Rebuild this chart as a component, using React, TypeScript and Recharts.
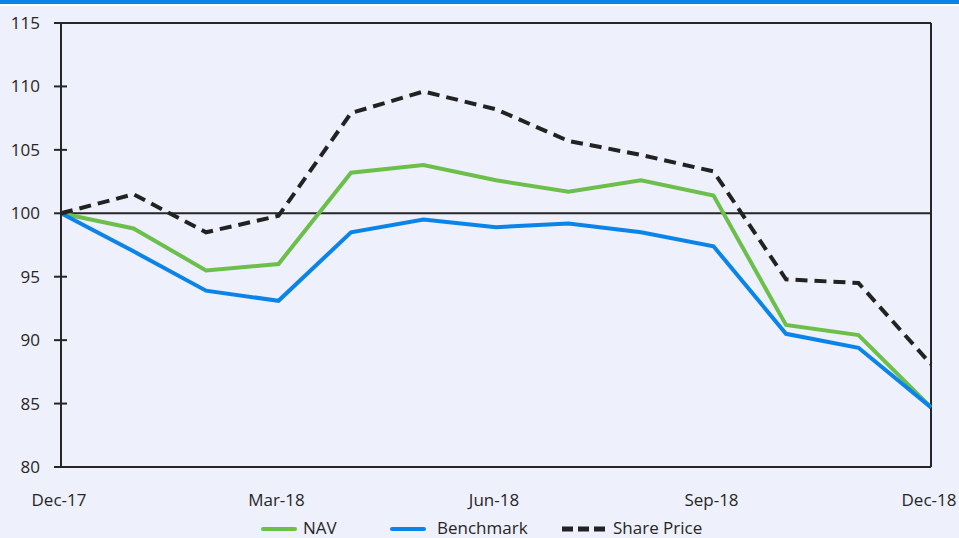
import { LineChart, Line, XAxis, YAxis, ReferenceLine } from "recharts";

const months = ["Dec-17", "Jan-18", "Feb-18", "Mar-18", "Apr-18", "May-18", "Jun-18", "Jul-18", "Aug-18", "Sep-18", "Oct-18", "Nov-18", "Dec-18"];
const nav = [100, 98.8, 95.5, 96.0, 103.2, 103.8, 102.6, 101.7, 102.6, 101.4, 91.2, 90.4, 84.7];
const benchmark = [100, 97.0, 93.9, 93.1, 98.5, 99.5, 98.9, 99.2, 98.5, 97.4, 90.5, 89.4, 84.7];
const sharePrice = [100, 101.5, 98.5, 99.8, 107.9, 109.6, 108.2, 105.7, 104.6, 103.3, 94.8, 94.5, 88.1];
const yTicks = [80, 85, 90, 95, 100, 105, 110, 115];

const FONT = "'Open Sans', sans-serif";
const INK = "#262626";

const YTick = ({ y, payload }: any) => (
  <g>
    <line x1={54} x2={67} y1={y} y2={y} stroke={INK} strokeWidth={2} />
    <text x={40} y={y + 6} textAnchor="end" fontSize={17} fontFamily={FONT} fill={INK}>
      {payload.value}
    </text>
  </g>
);

const XTick = ({ x, payload }: any) => (
  <text x={x - 2} y={506} textAnchor="middle" fontSize={17} fontFamily={FONT} fill={INK}>
    {payload.value}
  </text>
);

export default function App() {
  const data = months.map((m, i) => ({
    month: m,
    nav: nav[i],
    benchmark: benchmark[i],
    share: sharePrice[i],
  }));

  const legendText = { position: "absolute" as const, top: 0, display: "inline-block", height: 17, lineHeight: "17px" };

  return (
    <div style={{ position: "absolute", left: 0, top: 0, width: 959, height: 538, background: "#EEF0FC", overflow: "hidden" }}>
      <div style={{ position: "absolute", left: 0, top: 0, width: 959, height: 4, background: "#0A84E8" }} />
      <div style={{ position: "absolute", left: 0, top: 4, width: 959, height: 2, background: "#ffffff" }} />
      <LineChart width={959} height={538} data={data} margin={{ top: 23, right: 28, left: 0, bottom: 0 }}>
        <XAxis
          dataKey="month"
          height={71}
          interval={2}
          tickLine={false}
          axisLine={{ stroke: INK, strokeWidth: 2 }}
          tick={(p: any) => <XTick {...p} />}
        />
        <YAxis
          width={61}
          domain={[80, 115]}
          ticks={yTicks}
          tickLine={false}
          axisLine={{ stroke: INK, strokeWidth: 2 }}
          tick={(p: any) => <YTick {...p} />}
        />
        <ReferenceLine y={115} stroke={INK} strokeWidth={2} />
        <ReferenceLine x="Dec-18" stroke={INK} strokeWidth={2} />
        <ReferenceLine y={100} stroke={INK} strokeWidth={2} />
        <Line dataKey="nav" stroke="#6CBF4A" strokeWidth={4} dot={false} isAnimationActive={false} />
        <Line dataKey="benchmark" stroke="#0A84E8" strokeWidth={4} dot={false} isAnimationActive={false} />
        <Line dataKey="share" stroke="#222222" strokeWidth={4} strokeDasharray="12 7" dot={false} isAnimationActive={false} />
      </LineChart>
      <div style={{ position: "absolute", top: 519, left: 0, width: 959, height: 18, fontFamily: FONT, fontSize: 17, color: INK, whiteSpace: "nowrap" }}>
        <div style={{ position: "absolute", left: 261, top: 8, width: 36, height: 4, background: "#6CBF4A", borderRadius: 2 }} />
        <span style={{ ...legendText, left: 303 }}>NAV</span>
        <div style={{ position: "absolute", left: 390, top: 8, width: 36, height: 4, background: "#0A84E8", borderRadius: 2 }} />
        <span style={{ ...legendText, left: 437 }}>Benchmark</span>
        <svg style={{ position: "absolute", left: 560, top: 6 }} width={48} height={8}>
          <line x1={2} x2={46} y1={4} y2={4} stroke="#222222" strokeWidth={5} strokeDasharray="11 5" strokeLinecap="butt" />
        </svg>
        <span style={{ ...legendText, left: 613 }}>Share Price</span>
      </div>
    </div>
  );
}
